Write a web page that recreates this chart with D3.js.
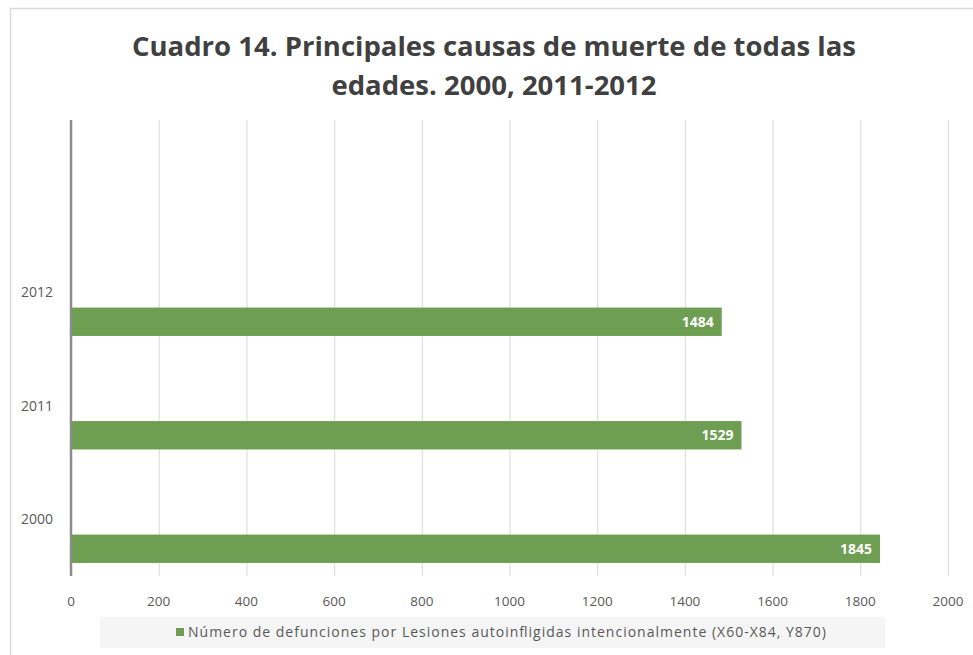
<!DOCTYPE html>
<html><head><meta charset="utf-8">
<script src="https://cdn.jsdelivr.net/npm/d3@7/dist/d3.min.js"></script>
<style>body{margin:0;background:#fff}svg{display:block}</style>
</head><body>
<svg id="c" width="973" height="655"></svg>
<script>
const categories = ["", "2012", "2011", "2000"];
const years = ["2012", "2011", "2000"];
const values = [1484, 1529, 1845];
const xTicks = [0, 200, 400, 600, 800, 1000, 1200, 1400, 1600, 1800, 2000];
const titleLines = ["Cuadro 14. Principales causas de muerte de todas las", "edades. 2000, 2011-2012"];
const seriesName = "Número de defunciones por Lesiones autoinfligidas intencionalmente (X60-X84, Y870)";

const svg = d3.select("#c");
const m = {left: 71, top: 122};
const green = "#6d9e51";
const font = "Open Sans, sans-serif";

// outer frame (top and left edges)
svg.append("path").attr("d", "M10.5,655 L10.5,8.5 L973,8.5").attr("fill", "none").attr("stroke", "#dcdcdc").attr("stroke-width", 1.5);

const x = d3.scaleLinear().domain([0, 2000]).range([m.left, 948]);
const y = d3.scaleBand().domain(categories).range([m.top, 576]).paddingInner(0).paddingOuter(0);
const barOff = y.bandwidth() * 0.635, barH = y.bandwidth() * 0.25;

// gridlines
svg.append("g").selectAll("line").data(xTicks.filter(d => d > 0)).join("line")
  .attr("x1", d => x(d) + 0.5).attr("x2", d => x(d) + 0.5)
  .attr("y1", 120).attr("y2", 576)
  .attr("stroke", "#dedede").attr("stroke-width", 1.2);

// bars
svg.append("g").selectAll("rect").data(years).join("rect")
  .attr("x", x(0)).attr("width", (d, i) => x(values[i]) - x(0))
  .attr("y", d => y(d) + barOff).attr("height", barH)
  .attr("fill", green);

// bar labels
svg.append("g").selectAll("text").data(years).join("text")
  .attr("x", (d, i) => x(values[i]) - 8)
  .attr("y", d => y(d) + barOff + barH / 2)
  .attr("dy", "0.35em").attr("text-anchor", "end")
  .attr("font-family", font).attr("font-weight", "bold").attr("font-size", 14)
  .attr("fill", "#fff").text((d, i) => values[i]);

// y axis line
svg.append("line").attr("x1", x(0)).attr("x2", x(0)).attr("y1", 120).attr("y2", 576)
  .attr("stroke", "#8c8c8c").attr("stroke-width", 2.5);

// category labels
svg.append("g").selectAll("text").data(years).join("text")
  .attr("x", 53).attr("y", d => y(d) + y.bandwidth() / 2)
  .attr("dy", "0.35em").attr("text-anchor", "end")
  .attr("font-family", font).attr("font-size", 14)
  .attr("fill", "#595959").text(d => d);

// x tick labels
svg.append("g").selectAll("text").data(xTicks).join("text")
  .attr("x", d => x(d)).attr("y", 601).attr("dy", "0.35em").attr("text-anchor", "middle")
  .attr("font-family", font).attr("font-size", 13.5)
  .attr("fill", "#595959").text(d => d);

// title
svg.append("g").selectAll("text").data(titleLines).join("text")
  .attr("x", 494).attr("y", (d, i) => 46 + i * 39).attr("dy", "0.35em").attr("text-anchor", "middle")
  .attr("font-family", font).attr("font-weight", "bold").attr("font-size", 27.5)
  .attr("fill", "#404040").text(d => d);

// legend
svg.append("rect").attr("x", 100).attr("y", 617).attr("width", 785).attr("height", 31).attr("fill", "#f5f5f5");
svg.append("rect").attr("x", 176).attr("y", 628).attr("width", 8).attr("height", 8).attr("fill", green);
svg.append("text").attr("x", 188).attr("y", 632).attr("dy", "0.35em")
  .attr("font-family", font).attr("font-size", 14)
  .attr("textLength", 638).attr("lengthAdjust", "spacing")
  .attr("fill", "#595959").text(seriesName);
</script>
</body></html>
